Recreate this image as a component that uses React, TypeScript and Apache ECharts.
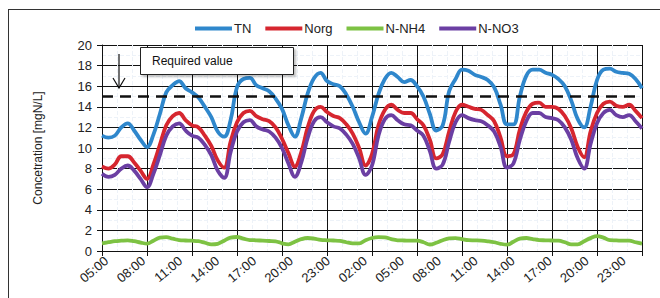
import React, { useEffect, useRef } from "react";
import * as echarts from "echarts";

// Time labels along the x axis (every 3 hours, two days)
const timeLabels = ["05:00","08:00","11:00","14:00","17:00","20:00","23:00","02:00","05:00","08:00","11:00","14:00","17:00","20:00","23:00"];
const yTicks = { min: 0, max: 20, step: 2 };
const requiredValue = 15;

// Half-hourly samples, 0 .. 42 h after 05:00
const tn = [11.2,11.0,11.2,12.0,12.4,11.7,10.8,10.1,11.3,13.3,15.4,16.1,16.5,15.8,15.4,14.9,14.0,13.0,11.6,11.1,12.7,15.9,16.7,16.8,16.1,15.8,15.5,14.8,13.8,12.2,11.1,12.9,15.3,16.8,17.3,16.5,16.2,16.0,15.2,14.0,12.5,11.4,13.0,15.2,16.7,17.3,16.9,16.4,16.6,16.0,15.0,13.3,11.7,12.2,15.5,16.7,17.6,17.5,17.1,16.9,16.6,15.9,14.2,12.3,12.3,15.0,17.0,17.6,17.6,17.3,17.1,16.7,16.0,14.6,12.8,12.0,14.0,16.6,17.6,17.7,17.4,17.3,17.2,16.7,15.8];
const norg = [8.2,8.0,8.4,9.2,9.2,8.6,7.8,7.0,8.4,10.3,12.2,13.1,13.4,12.7,12.2,12.0,11.2,10.2,8.8,8.1,10.6,12.5,13.4,13.6,13.1,12.8,12.6,12.0,10.9,9.5,8.2,9.6,12.0,13.6,14.0,13.5,13.1,12.9,12.3,11.4,10.0,8.3,9.4,12.2,13.7,14.2,13.7,13.4,13.4,12.8,12.2,10.8,9.0,9.4,11.6,13.5,14.2,14.0,13.8,13.7,13.2,12.6,11.0,9.2,9.4,11.8,13.5,14.3,14.4,14.0,14.0,13.8,13.1,11.9,10.1,9.1,11.6,13.4,14.3,14.5,14.1,14.0,14.2,13.6,12.9];
const nnh4 = [0.75,0.85,0.95,1.0,1.04,0.95,0.82,0.72,1.0,1.3,1.35,1.2,1.05,1.02,1.0,0.95,0.8,0.65,0.7,1.0,1.3,1.36,1.2,1.06,1.04,1.0,0.97,0.94,0.75,0.65,0.9,1.15,1.26,1.2,1.08,1.04,1.02,0.98,0.85,0.75,0.75,1.05,1.26,1.34,1.32,1.15,1.04,1.02,1.0,1.0,0.85,0.63,0.8,1.05,1.22,1.25,1.15,1.05,1.03,1.0,0.94,0.85,0.7,0.62,0.9,1.2,1.26,1.15,1.06,1.04,1.02,1.0,0.85,0.65,0.65,0.95,1.25,1.45,1.3,1.05,1.03,1.0,1.0,0.85,0.72];
const nno3 = [7.5,7.2,7.4,8.0,8.3,7.8,7.0,6.2,7.5,9.3,11.2,12.1,12.4,11.7,11.2,11.0,10.3,9.3,7.8,7.1,9.6,11.6,12.5,12.7,12.1,11.8,11.6,11.0,10.0,8.5,7.2,8.6,11.0,12.6,13.0,12.5,12.1,11.9,11.3,10.4,9.0,7.4,8.3,11.2,12.8,13.2,12.7,12.3,12.2,11.7,11.2,9.7,8.0,8.4,10.6,12.5,13.2,12.9,12.7,12.6,12.2,11.6,10.1,8.1,8.5,10.8,12.6,13.4,13.4,13.0,12.9,12.7,12.0,10.8,9.0,8.0,10.4,12.4,13.4,13.7,13.2,13.0,13.2,12.6,11.9];

const FONT = "Liberation Sans, Arial, sans-serif";
const pair = (arr: number[]) => arr.map((v, i) => [i * 0.5, v]);

export default function App() {
  const ref = useRef<HTMLDivElement>(null);
  useEffect(() => {
    if (!ref.current) return;
    const chart = echarts.init(ref.current, undefined, { renderer: "svg" });
    const labelSlots = timeLabels.map((_, i) => i);
    chart.setOption({
      animation: false,
      backgroundColor: "#ffffff",
      textStyle: { fontFamily: FONT },
      grid: { left: 102, right: 18, top: 45, bottom: 47 },
      legend: {
        left: 190,
        top: 17,
        icon: "rect",
        itemWidth: 37,
        itemHeight: 4,
        itemGap: 14,
        textStyle: { fontSize: 13, color: "#222", fontFamily: FONT, padding: [0, 0, 0, -3] },
        data: ["TN", "Norg", "N-NH4", "N-NO3"],
      },
      xAxis: [
        {
          type: "value",
          min: 0,
          max: 42,
          interval: 3.5,
          axisLine: { show: true, lineStyle: { color: "#111", width: 1 } },
          axisTick: { show: true, length: 5, lineStyle: { color: "#111" } },
          axisLabel: { show: false },
          splitLine: { show: true, lineStyle: { color: "#111", width: 1 } },
          minorTick: { show: false, splitNumber: 3 },
          minorSplitLine: { show: true, lineStyle: { color: "#edf2f8", width: 1, type: "dashed" } },
        },
        {
          type: "value",
          position: "bottom",
          min: -0.122,
          max: 14.492,
          axisLine: { show: false },
          axisTick: { show: false },
          splitLine: { show: false },
          axisLabel: {
            show: true,
            customValues: labelSlots,
            rotate: 40,
            margin: 8,
            fontSize: 13,
            color: "#222",
            fontFamily: FONT,
            formatter: (v: number) => timeLabels[Math.round(v)] ?? "",
          },
        },
      ],
      yAxis: {
        type: "value",
        min: yTicks.min,
        max: yTicks.max,
        interval: yTicks.step,
        name: "Concetration [mgN/L]",
        nameLocation: "middle",
        nameGap: 58,
        nameTextStyle: { fontSize: 12, color: "#222", fontFamily: FONT },
        axisLine: { show: true, lineStyle: { color: "#111", width: 1 } },
        axisTick: { show: true, length: 5, lineStyle: { color: "#111" } },
        axisLabel: { fontSize: 13, color: "#222", margin: 10, fontFamily: FONT },
        splitLine: { show: true, lineStyle: { color: "#111", width: 1 } },
        minorTick: { show: false, splitNumber: 2 },
        minorSplitLine: { show: true, lineStyle: { color: "#edf2f8", width: 1, type: "dashed" } },
      },
      series: [
        {
          name: "TN",
          type: "line",
          xAxisIndex: 0,
          data: pair(tn),
          smooth: 0.4,
          symbol: "none",
          lineStyle: { color: "#2f87cc", width: 3.8 },
          itemStyle: { color: "#2f87cc" },
          markLine: {
            silent: true,
            symbol: "none",
            label: { show: false },
            lineStyle: { color: "#111", width: 2.5, type: [11, 7] },
            data: [{ yAxis: requiredValue }],
          },
        },
        {
          name: "Norg",
          type: "line",
          xAxisIndex: 0,
          data: pair(norg),
          smooth: 0.4,
          symbol: "none",
          lineStyle: { color: "#d6262f", width: 3.8 },
          itemStyle: { color: "#d6262f" },
        },
        {
          name: "N-NH4",
          type: "line",
          xAxisIndex: 0,
          data: pair(nnh4),
          smooth: 0.4,
          symbol: "none",
          lineStyle: { color: "#7dc243", width: 3.8 },
          itemStyle: { color: "#7dc243" },
        },
        {
          name: "N-NO3",
          type: "line",
          xAxisIndex: 0,
          data: pair(nno3),
          smooth: 0.4,
          symbol: "none",
          lineStyle: { color: "#6b3fa3", width: 3.8 },
          itemStyle: { color: "#6b3fa3" },
        },
      ],
      graphic: [
        { type: "line", shape: { x1: 8, y1: 9.5, x2: 660, y2: 9.5 }, style: { stroke: "#333", lineWidth: 1 }, silent: true },
        { type: "line", shape: { x1: 8.5, y1: 9, x2: 8.5, y2: 298 }, style: { stroke: "#333", lineWidth: 1 }, silent: true },
        { type: "rect", shape: { x: 140.5, y: 47.5, width: 153, height: 27 }, style: { fill: "#fff", stroke: "#222", lineWidth: 1, shadowColor: "rgba(0,0,0,0.25)", shadowOffsetX: 2, shadowOffsetY: 2, shadowBlur: 2 }, z: 100 },
        { type: "text", x: 152, y: 61, style: { text: "Required value", fontSize: 12, fill: "#111", fontFamily: FONT, verticalAlign: "middle" }, z: 101 },
        { type: "line", shape: { x1: 119, y1: 54, x2: 119, y2: 88 }, style: { stroke: "#111", lineWidth: 1.2 }, z: 100 },
        { type: "polyline", shape: { points: [[113, 78], [119, 88], [125, 78]] }, style: { stroke: "#111", lineWidth: 1.2, fill: null }, z: 100 },
      ],
    });
    return () => chart.dispose();
  }, []);
  return <div ref={ref} style={{ position: "fixed", left: 0, top: 0, width: 660, height: 298 }} />;
}
